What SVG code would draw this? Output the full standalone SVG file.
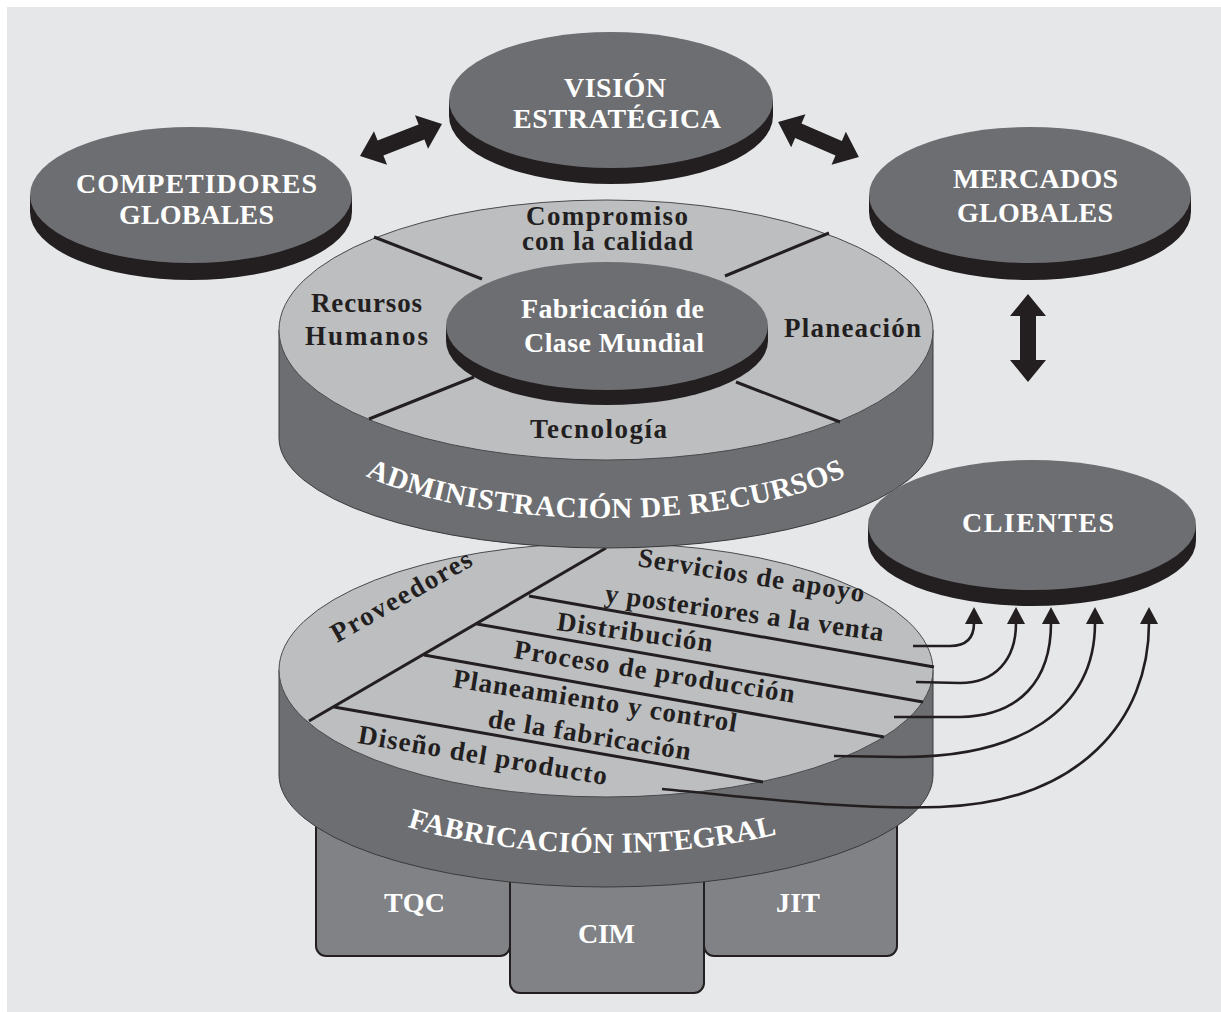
<svg xmlns="http://www.w3.org/2000/svg" xmlns:xlink="http://www.w3.org/1999/xlink" width="1221" height="1012" viewBox="0 0 1221 1012">
  <defs>
    <style>
      .face{fill:#6d6e71}
      .rim{fill:#231f20}
      .side{fill:#6d6e71;stroke:#3a3a3c;stroke-width:1}
      .disc{fill:#bcbec0;stroke:#4a4a4c;stroke-width:1}
      .box{fill:#808285;stroke:#231f20;stroke-width:2}
      .wt{font-family:"Liberation Serif","Times New Roman",serif;font-weight:bold;font-size:28px;fill:#ffffff}
      .dk{font-family:"Liberation Serif","Times New Roman",serif;font-weight:bold;font-size:27px;fill:#231f20}
      .arc{font-family:"Liberation Serif","Times New Roman",serif;font-weight:bold;font-size:29px;fill:#ffffff}
      .div{stroke:#231f20;stroke-width:3;fill:none}
      .conn{stroke:#231f20;stroke-width:2.6;fill:none;marker-end:url(#tip)}
      .big{fill:#231f20}
    </style>
    <marker id="tip" markerUnits="userSpaceOnUse" markerWidth="18" markerHeight="20" viewBox="0 0 18 20" refX="1" refY="10" orient="auto">
      <path d="M0,1 L17,10 L0,19 Z" fill="#231f20"/>
    </marker>
    <!-- block double arrow, centred on the origin along x -->
    <path id="dbl" d="M-44,0 L-22,-18 L-22,-8 L22,-8 L22,-18 L44,0 L22,18 L22,8 L-22,8 L-22,18 Z"/>
    <!-- baselines for the curved side labels -->
    <path id="arcAdmin" d="M336,458.8 A300,105 0 0 0 876,458.8"/>
    <path id="arcFab" d="M376,815.4 A300,105 0 0 0 836,815.4"/>
  </defs>

  <rect x="0" y="0" width="1221" height="1012" fill="#ffffff"/>
  <rect x="7" y="7" width="1214" height="1005" fill="#e6e7e8"/>

  <!-- support blocks under the lower cylinder -->
  <g id="tqc">
    <rect class="box" x="316" y="760" width="194" height="196" rx="10"/>
    <text class="wt" x="384" y="912" textLength="61">TQC</text>
  </g>
  <g id="jit">
    <rect class="box" x="704" y="760" width="193" height="196" rx="10"/>
    <text class="wt" x="776" y="912" textLength="44">JIT</text>
  </g>
  <g id="cim">
    <rect class="box" x="510" y="760" width="194" height="233" rx="10"/>
    <text class="wt" x="578" y="943" textLength="57">CIM</text>
  </g>

  <!-- lower cylinder: integrated manufacturing -->
  <g id="fabricacion-integral">
    <path class="side" d="M279,670 L279,775 A327,112 0 0 0 933,775 L933,670 Z"/>
    <ellipse class="disc" cx="606" cy="670" rx="327" ry="127"/>
    <line class="div" x1="309" y1="721" x2="606" y2="548"/>
    <line class="div" x1="529" y1="596" x2="934" y2="667"/>
    <line class="div" x1="477" y1="624" x2="923" y2="702"/>
    <line class="div" x1="424" y1="655" x2="884" y2="737"/>
    <line class="div" x1="334" y1="707" x2="763" y2="782"/>
    <text class="dk" x="337" y="643" textLength="158" transform="rotate(-29.7 337 643)">Proveedores</text>
    <text class="dk" x="637" y="566" textLength="229" transform="rotate(9.1 637 566)">Servicios de apoyo</text>
    <text class="dk" x="604" y="602" textLength="281" transform="rotate(8 604 602)">y posteriores a la venta</text>
    <text class="dk" x="556" y="630" textLength="157" transform="rotate(8 556 630)">Distribución</text>
    <text class="dk" x="513" y="658" textLength="284" transform="rotate(9.1 513 658)">Proceso de producción</text>
    <text class="dk" x="452" y="687" textLength="287" transform="rotate(9 452 687)">Planeamiento y control</text>
    <text class="dk" x="487" y="727" textLength="205" transform="rotate(9.3 487 727)">de la fabricación</text>
    <text class="dk" x="357" y="743" textLength="252" transform="rotate(9.6 357 743)">Diseño del producto</text>
    <text class="arc" letter-spacing="0.3" text-anchor="middle"><textPath href="#arcFab" xlink:href="#arcFab" startOffset="47%">FABRICACIÓN INTEGRAL</textPath></text>
  </g>

  <!-- connectors -->
  <g id="connectors">
    <path class="conn" d="M913,646 L950,646 C966,646 974,638 974,623"/>
    <path class="conn" d="M916,682 L960,683 C995,683 1016,660 1016,623"/>
    <path class="conn" d="M894,717 L960,717 C1020,716 1051,680 1051,623"/>
    <path class="conn" d="M834,756 L900,757 C1020,758 1095,710 1095,623"/>
    <path class="conn" d="M662,789 C760,798 850,810 940,807 C1080,802 1149,720 1149,623"/>
    <use class="big" href="#dbl" xlink:href="#dbl" transform="translate(401,140) rotate(-21.3)"/>
    <use class="big" href="#dbl" xlink:href="#dbl" transform="translate(818.5,139.5) rotate(23.4)"/>
    <use class="big" href="#dbl" xlink:href="#dbl" transform="translate(1028,338) rotate(90)"/>
  </g>

  <!-- upper cylinder: resource management -->
  <g id="administracion-recursos">
    <path class="side" d="M279,330 L279,438 A327,110 0 0 0 933,438 L933,330 Z"/>
    <ellipse class="disc" cx="606" cy="330" rx="327" ry="130"/>
    <line class="div" x1="374" y1="237" x2="482" y2="279"/>
    <line class="div" x1="829" y1="233" x2="725" y2="276"/>
    <line class="div" x1="369" y1="419" x2="474" y2="377"/>
    <line class="div" x1="840" y1="422" x2="736" y2="382"/>
    <text class="dk" x="526" y="225" textLength="162">Compromiso</text>
    <text class="dk" x="522" y="250" textLength="171">con la calidad</text>
    <text class="dk" x="311" y="312" textLength="111">Recursos</text>
    <text class="dk" x="305" y="345" textLength="123">Humanos</text>
    <text class="dk" x="784" y="337" textLength="137">Planeación</text>
    <text class="dk" x="530" y="438" textLength="137">Tecnología</text>
    <text class="arc" letter-spacing="0.5" text-anchor="middle"><textPath href="#arcAdmin" xlink:href="#arcAdmin" startOffset="50%">ADMINISTRACIÓN DE RECURSOS</textPath></text>
  </g>

  <g id="clase-mundial">
    <path class="rim" d="M446,326 L446,341 A161,64 0 0 0 768,341 L768,326 Z"/>
    <ellipse class="face" cx="607" cy="326" rx="161" ry="64"/>
    <text class="wt" x="521" y="318" textLength="183">Fabricación de</text>
    <text class="wt" x="524" y="352" textLength="180">Clase Mundial</text>
  </g>

  <g id="clientes">
    <path class="rim" d="M868,525 L868,541 A164,65 0 0 0 1196,541 L1196,525 Z"/>
    <ellipse class="face" cx="1032" cy="525" rx="164" ry="65"/>
    <text class="wt" x="962" y="532" textLength="152">CLIENTES</text>
  </g>

  <g id="competidores">
    <path class="rim" d="M30,195 L30,212 A161,68 0 0 0 352,212 L352,195 Z"/>
    <ellipse class="face" cx="191" cy="195" rx="161" ry="68"/>
    <text class="wt" x="76" y="193" textLength="241">COMPETIDORES</text>
    <text class="wt" x="119" y="224" textLength="155">GLOBALES</text>
  </g>

  <g id="vision">
    <path class="rim" d="M449,100 L449,116 A162,68 0 0 0 773,116 L773,100 Z"/>
    <ellipse class="face" cx="611" cy="100" rx="162" ry="68"/>
    <text class="wt" x="564" y="97" textLength="102">VISIÓN</text>
    <text class="wt" x="513" y="128" textLength="208">ESTRATÉGICA</text>
  </g>

  <g id="mercados">
    <path class="rim" d="M869,195 L869,212 A161,68 0 0 0 1191,212 L1191,195 Z"/>
    <ellipse class="face" cx="1030" cy="195" rx="161" ry="68"/>
    <text class="wt" x="953" y="188" textLength="165">MERCADOS</text>
    <text class="wt" x="957" y="222" textLength="156">GLOBALES</text>
  </g>
</svg>
